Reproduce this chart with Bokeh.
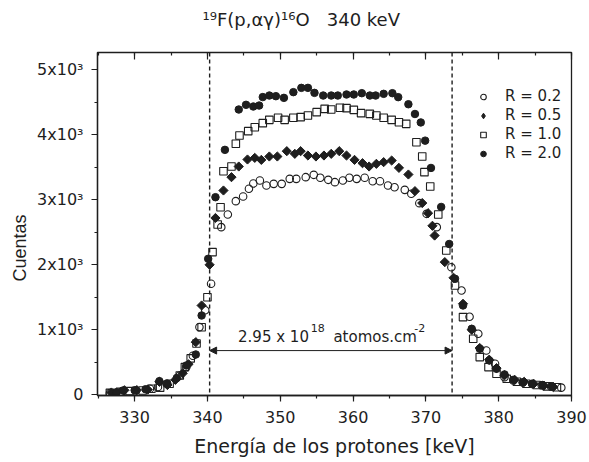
from math import pi
from bokeh.plotting import figure
from bokeh.models import (Range1d, Span, Arrow, NormalHead, Label, Legend, LegendItem,
                          LinearAxis, SingleIntervalTicker, Title)
from bokeh.embed import file_html
from bokeh.resources import INLINE

# ---------------- data ----------------
e_r02 = [326.6, 328.2, 330.2, 332.1, 333.2, 334.4, 336.2, 337.1, 338.0, 338.9, 339.7, 340.5,
         341.9, 342.8, 343.9, 344.9, 345.7, 346.3, 347.2, 348.1, 349.1, 350.2, 351.3, 352.2,
         353.5, 354.6, 355.5, 356.6, 357.5, 358.6, 359.5, 360.5, 361.6, 362.7, 363.7, 364.8,
         365.7, 367.1, 368.0, 369.1, 370.1, 371.5, 373.5, 374.9, 376.0, 377.2, 378.3, 379.5,
         380.8, 382.0, 383.3, 384.6, 385.9, 387.2, 388.6]
c_r02 = [25, 45, 67, 92, 120, 169, 297, 426, 600, 1041, 1300, 1708,
         2579, 2774, 2979, 3050, 3170, 3250, 3297, 3220, 3245, 3245, 3322, 3322,
         3348, 3384, 3338, 3307, 3271, 3297, 3338, 3322, 3338, 3286, 3286, 3220,
         3194, 3153, 3092, 2948, 2784, 2579, 1963, 1605, 1200, 938, 682, 477,
         271, 220, 190, 165, 145, 125, 110]

e_r05 = [326.8, 328.6, 330.3, 331.8, 333.4, 334.5, 335.6, 336.6, 337.4, 338.4, 339.2, 340.3,
         341.1, 342.2, 343.3, 344.3, 345.5, 346.5, 347.4, 348.5, 349.6, 350.9, 352.0, 352.8,
         353.8, 354.9, 356.0, 357.0, 358.1, 359.1, 360.2, 361.3, 362.2, 363.2, 364.2, 365.3,
         366.3, 367.6, 368.5, 369.5, 370.3, 370.9, 371.2, 372.6, 373.8, 375.1, 376.3, 377.4,
         378.7, 379.7, 380.8, 382.2, 383.5, 384.8, 386.2, 387.5]
c_r05 = [35, 70, 72, 80, 200, 150, 230, 330, 470, 810, 1374, 2000,
         2720, 3143, 3348, 3512, 3620, 3645, 3614, 3666, 3666, 3748, 3707, 3748,
         3681, 3666, 3681, 3707, 3748, 3681, 3614, 3563, 3512, 3553, 3579, 3604,
         3491, 3389, 3133, 2950, 2794, 2600, 2450, 2041, 1800, 1400, 1000, 720,
         540, 410, 300, 230, 200, 170, 140, 120]

e_r10 = [326.6, 328.0, 329.3, 331.1, 332.3, 333.5, 334.8, 336.2, 336.9, 337.7, 338.5, 339.2,
         340.0, 340.7, 341.4, 341.8, 342.2, 343.3, 343.9, 344.4, 345.6, 346.5, 347.6, 348.5,
         349.7, 350.6, 351.8, 352.8, 353.8, 355.0, 356.1, 357.0, 358.2, 359.1, 360.1, 361.1,
         362.3, 363.2, 364.2, 365.3, 366.3, 367.3, 368.7, 369.5, 369.8, 370.6, 371.7, 372.8,
         374.0, 375.1, 376.5, 377.4, 378.6, 379.7, 381.1, 382.5, 383.8, 385.2, 386.6, 388.0]
c_r10 = [30, 45, 56, 67, 92, 110, 169, 297, 426, 560, 790, 1040,
         1500, 2195, 2620, 2886, 3440, 3512, 3861, 3989, 4056, 4117, 4179, 4230,
         4261, 4230, 4261, 4271, 4297, 4348, 4399, 4389, 4415, 4410, 4384, 4333,
         4322, 4297, 4261, 4230, 4194, 4168, 3886, 3666, 3425, 3204, 2774, 2220,
         1682, 1195, 862, 580, 426, 323, 246, 200, 170, 150, 130, 115]

e_r20 = [327.5, 328.4, 330.0, 331.5, 333.4, 334.5, 335.8, 337.1, 338.4, 339.2, 340.1, 341.1,
         342.4, 344.3, 345.3, 346.3, 347.1, 347.6, 348.5, 349.4, 350.5, 351.8, 352.9, 353.8,
         354.7, 355.9, 357.0, 357.9, 359.1, 360.1, 361.2, 362.3, 363.1, 364.2, 365.4, 366.2,
         367.6, 368.5, 369.3, 369.9, 370.7, 372.1, 373.2, 374.0, 375.1, 376.3, 377.4, 378.7,
         379.7, 380.8, 382.0, 383.3, 384.6, 386.0, 387.3]
c_r20 = [40, 66, 70, 85, 210, 170, 260, 451, 620, 1220, 2092, 3040,
         3768, 4389, 4461, 4435, 4450, 4580, 4604, 4594, 4568, 4656, 4722, 4722,
         4645, 4604, 4604, 4604, 4620, 4620, 4640, 4604, 4604, 4630, 4640, 4579,
         4470, 4320, 4190, 3910, 3490, 2890, 2320, 1785, 1374, 1015, 708, 528,
         400, 313, 230, 190, 170, 150, 130]

series_labels = ["R = 0.2", "R = 0.5", "R = 1.0", "R = 2.0"]
x_ticks_major = 10
y_ticks_major = 1000
x_tick_values = [330, 340, 350, 360, 370, 380, 390]
y_tick_labels = {0: "0", 1000: "1x10\u00b3", 2000: "2x10\u00b3", 3000: "3x10\u00b3",
                 4000: "4x10\u00b3", 5000: "5x10\u00b3"}
bound_lo = 340.3
bound_hi = 373.6
thickness_y = 680
title_text = "\u00b9\u2079F(p,\u03b1\u03b3)\u00b9\u2076O\u00a0\u00a0\u00a0340 keV"

FONT = "DejaVu Sans"
INK = "#1e1e1e"

p = figure(width=589, height=462, output_backend="svg", toolbar_location=None,
           x_range=Range1d(324.9, 390), y_range=Range1d(-11, 5266),
           min_border_left=97, min_border_right=18, min_border_top=52, min_border_bottom=67,
           background_fill_color="white", border_fill_color="white")
p.grid.visible = False
p.outline_line_color = INK
p.outline_line_width = 1.3

xt = SingleIntervalTicker(interval=x_ticks_major, num_minor_ticks=2)
yt = SingleIntervalTicker(interval=y_ticks_major, num_minor_ticks=2)
p.xaxis.ticker = xt
p.yaxis.ticker = yt
p.yaxis.major_label_overrides = y_tick_labels

for ax in (p.xaxis[0], p.yaxis[0]):
    ax.axis_line_color = INK
    ax.axis_line_width = 1.3
    ax.major_tick_line_color = INK
    ax.minor_tick_line_color = INK
    ax.major_tick_line_width = 1.2
    ax.minor_tick_line_width = 1.2
    ax.major_tick_in = 0
    ax.major_tick_out = 6
    ax.minor_tick_in = 0
    ax.minor_tick_out = 3
    ax.major_label_text_font = FONT
    ax.major_label_text_font_size = "16px"
    ax.major_label_text_color = INK

p.xaxis.major_label_standoff = 9
p.yaxis.major_label_standoff = 8
p.xaxis.axis_label = "Energía de los protones [keV]"
p.xaxis.axis_label_text_font = FONT
p.xaxis.axis_label_text_font_size = "19px"
p.xaxis.axis_label_text_font_style = "normal"
p.xaxis.axis_label_text_color = INK
p.xaxis.axis_label_standoff = 9

# mirrored top axis: inward ticks only, blank labels (they only reserve space)
top = LinearAxis(ticker=SingleIntervalTicker(interval=x_ticks_major, num_minor_ticks=2),
                 major_tick_in=7, major_tick_out=0, minor_tick_in=3, minor_tick_out=0,
                 major_label_overrides={v: "\u00a0" for v in x_tick_values},
                 major_label_text_font_size="8px", major_label_standoff=6,
                 axis_line_color=INK,
                 major_tick_line_color=INK, minor_tick_line_color=INK,
                 major_tick_line_width=1.2, minor_tick_line_width=1.2)
p.add_layout(top, "above")

p.add_layout(Title(text=title_text, align="left", offset=105, text_font=FONT,
                   text_font_size="18px", text_font_style="normal", text_color=INK),
             "above")

p.add_layout(Title(text="Cuentas", align="left", offset=114, text_font="Liberation Sans",
                   text_font_size="18px", text_font_style="normal", text_color=INK),
             "left")

# boundaries and thickness arrow
for loc in (bound_lo, bound_hi):
    p.add_layout(Span(location=loc, dimension="height", line_color=INK,
                      line_dash="4 3", line_width=1.4))
p.add_layout(Arrow(start=NormalHead(size=7, fill_color=INK, line_color=INK),
                   end=NormalHead(size=7, fill_color=INK, line_color=INK),
                   x_start=bound_lo, y_start=thickness_y, x_end=bound_hi, y_end=thickness_y,
                   line_color=INK, line_width=1))

def lab(x, y, text, size, align="left"):
    p.add_layout(Label(x=x, y=y, text=text, text_font=FONT, text_font_size=size,
                       text_color=INK, text_align=align, text_baseline="alphabetic"))

lab(344.2, 882, "2.95 x 10", "15px")
lab(354.2, 1030, "18", "11px")
lab(357.3, 882, "atomos.cm", "15px")
lab(368.4, 1030, "-2", "11px")

# data
r1 = p.scatter(e_r02, c_r02, marker="circle", size=7.5, fill_color=None,
               line_color=INK, line_width=1.1)
r2 = p.scatter(e_r05, c_r05, marker="square", angle=pi / 4, size=6.5, fill_color=INK,
               line_color=INK, line_width=1)
r3 = p.scatter(e_r10, c_r10, marker="square", size=7.5, fill_color=None,
               line_color=INK, line_width=1.1)
r4 = p.scatter(e_r20, c_r20, marker="circle", size=7.5, fill_color=INK,
               line_color=INK, line_width=1)
# hidden twin of the R = 0.5 series, used only for its legend key (diamond symbol)
r2_key = p.scatter(e_r05, c_r05, marker="diamond", size=10, fill_color=INK,
                   line_color=INK, line_width=1, visible=False)

legend = Legend(items=[LegendItem(label=l, renderers=[r]) for l, r in
                       zip(series_labels, [r1, r2_key, r3, r4])],
                location=(379, 233), border_line_color=None, background_fill_alpha=0,
                glyph_width=14, glyph_height=17, label_height=17, spacing=1,
                padding=0, margin=0, label_standoff=15, inactive_fill_alpha=0,
                label_text_font=FONT, label_text_font_size="15px", label_text_color=INK)
p.add_layout(legend)

open("out.html", "w").write(file_html(p, INLINE))
